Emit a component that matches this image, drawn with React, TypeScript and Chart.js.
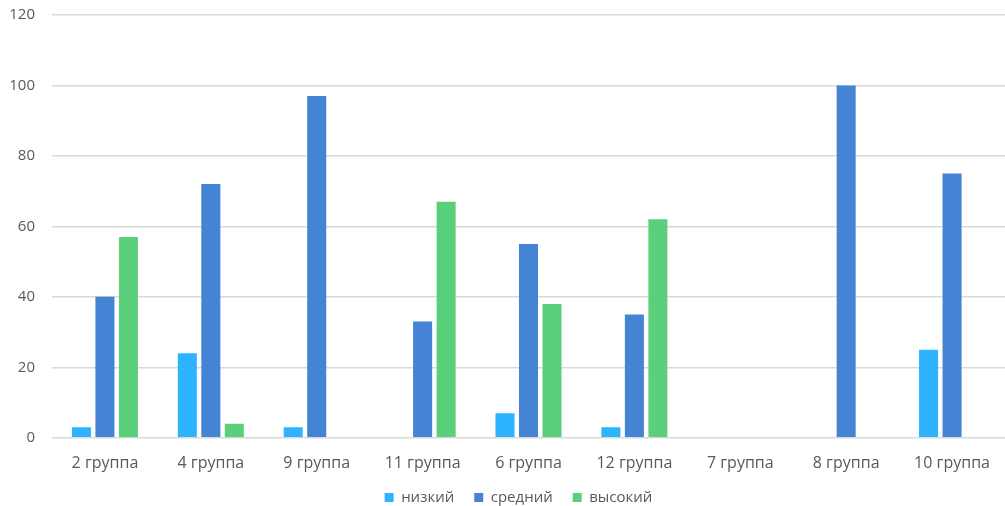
import React, { useEffect, useRef } from "react";
import { Chart, registerables } from "chart.js";

Chart.register(...registerables);

const categories = ["2 группа", "4 группа", "9 группа", "11 группа", "6 группа", "12 группа", "7 группа", "8 группа", "10 группа"];
const lowValues = [3, 24, 3, 0, 7, 3, 0, 0, 25];
const midValues = [40, 72, 97, 33, 55, 35, 0, 100, 75];
const highValues = [57, 4, 0, 67, 38, 62, 0, 0, 0];
const seriesNames = ["низкий", "средний", "высокий"];
const yTicks = [0, 20, 40, 60, 80, 100, 120];

const FONT = "'Open Sans', 'DejaVu Sans', sans-serif";
const TEXT = "#595959";

// shifts the legend box a little (right and down) just before drawing
const legendShift = {
  id: "legendShift",
  beforeDraw(chart: any) {
    const lg = chart.legend;
    if (!lg) return;
    lg.left = 16;
    lg.right = chart.width + 16;
    lg.top = chart.height - 36;
    lg.bottom = lg.top + 60;
  },
};

export default function App() {
  const ref = useRef<HTMLCanvasElement | null>(null);
  useEffect(() => {
    if (!ref.current) return;
    const chart = new Chart(ref.current, {
      type: "bar",
      data: {
        labels: categories,
        datasets: [
          { label: seriesNames[0], data: lowValues, backgroundColor: "#2EB4FF" },
          { label: seriesNames[1], data: midValues, backgroundColor: "#4584D4" },
          { label: seriesNames[2], data: highValues, backgroundColor: "#5BD07A" },
        ],
      },
      plugins: [legendShift],
      options: {
        animation: false,
        responsive: false,
        maintainAspectRatio: false,
        layout: { padding: { top: 15, right: 0, left: 0, bottom: -20 } },
        datasets: { bar: { categoryPercentage: 0.666, barPercentage: 0.81 } },
        plugins: {
          legend: {
            position: "bottom",
            labels: {
              boxWidth: 9,
              boxHeight: 9,
              padding: 20,
              color: TEXT,
              font: { family: FONT, size: 15 },
            },
          },
          tooltip: { enabled: false },
        },
        scales: {
          x: {
            grid: { display: false },
            border: { display: false },
            ticks: { color: TEXT, font: { family: FONT, size: 16 }, padding: 8 },
          },
          y: {
            min: 0,
            max: 120,
            afterBuildTicks: (axis: any) => {
              axis.ticks = yTicks.map((v) => ({ value: v }));
            },
            afterFit: (axis: any) => {
              axis.width = 52;
              axis.paddingTop = 0;
            },
            grid: { color: "#D9D9D9", lineWidth: 1.5, drawTicks: false },
            border: { display: false },
            ticks: { color: TEXT, font: { family: FONT, size: 15 }, padding: 17 },
          },
        },
      },
    });
    return () => chart.destroy();
  }, []);
  return (
    <div style={{ position: "fixed", left: 0, top: 0, width: 1005, height: 506, background: "#fff" }}>
      <canvas ref={ref} width={1005} height={506} style={{ display: "block" }} />
    </div>
  );
}
